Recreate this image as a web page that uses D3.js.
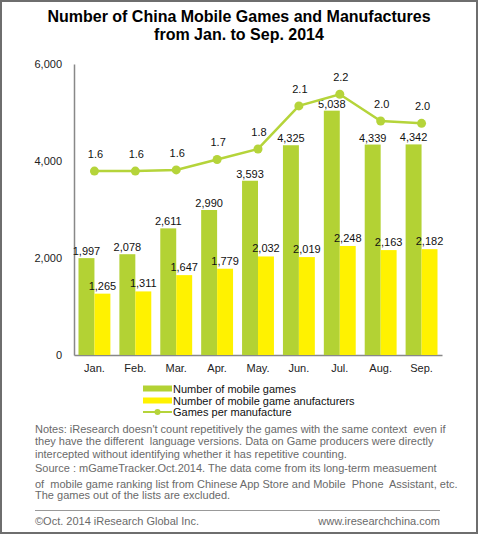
<!DOCTYPE html>
<html>
<head>
<meta charset="utf-8">
<script src="https://cdn.jsdelivr.net/npm/d3@7"></script>
<style>
  html, body { margin: 0; padding: 0; background: #fff; }
  svg { display: block; font-family: Arial, "Liberation Sans", sans-serif; }
</style>
</head>
<body>
<div id="chart"></div>
<script>
const months = ["Jan.", "Feb.", "Mar.", "Apr.", "May.", "Jun.", "Jul.", "Aug.", "Sep."];
const mobileGames = [1997, 2078, 2611, 2990, 3593, 4325, 5038, 4339, 4342];
const manufacturers = [1265, 1311, 1647, 1779, 2032, 2019, 2248, 2163, 2182];
const gamesPerManufacture = [1.58, 1.58, 1.59, 1.68, 1.77, 2.14, 2.24, 2.01, 1.99];
const yTicks = [0, 2000, 4000, 6000];
const seriesNames = ["Number of mobile games", "Number of mobile game anufacturers", "Games per manufacture"];
const titleLines = ["Number of China Mobile Games and Manufactures", "from Jan. to Sep. 2014"];
const noteLines = [
  "Notes: iResearch doesn't count repetitively the games with the same context  even if",
  "they have the different  language versions. Data on Game producers were directly",
  "intercepted without identifying whether it has repetitive counting.",
  "Source : mGameTracker.Oct.2014. The data come from its long-term measuement",
  "of  mobile game ranking list from Chinese App Store and Mobile  Phone  Assistant, etc.",
  "The games out of the lists are excluded."
];
const footerLeft = "\u00A9Oct. 2014 iResearch Global Inc.";
const footerRight = "www.iresearchchina.com";

const W = 478, H = 534;
const GREEN = "#b3d234", YELLOW = "#fff200", LINE = "#b5d43a";

const svg = d3.select("#chart").append("svg").attr("width", W).attr("height", H);

// frame
svg.append("rect").attr("x", 1).attr("y", 1).attr("width", W - 2).attr("height", H - 2)
  .attr("fill", "none").attr("stroke", "#6e6e6e").attr("stroke-width", 2);

// title
svg.append("g").selectAll("text").data(titleLines).join("text")
  .attr("x", 239).attr("y", (d, i) => 22 + i * 17.5)
  .attr("text-anchor", "middle").attr("font-size", 16).attr("font-weight", "bold")
  .attr("fill", "#000").text(d => d);

const x0 = d3.scaleBand().domain(months).range([74, 442]).paddingInner(0.22).paddingOuter(0.11);
const x1 = d3.scaleBand().domain(["games", "manu"]).range([0, x0.bandwidth()]);
const y = d3.scaleLinear().domain([0, 6000]).range([355, 64]);
const y2 = d3.scaleLinear().domain([0, 2.5]).range([355, 64]);

// axes
const yAxis = svg.append("g").attr("transform", "translate(74,0)")
  .call(d3.axisLeft(y).tickValues(yTicks).tickSize(0).tickPadding(12).tickFormat(d3.format(",")));
yAxis.select(".domain").attr("stroke", "#888").attr("stroke-width", 1.5);
yAxis.selectAll("text").attr("font-size", 11).attr("fill", "#222").attr("font-family", "Arial, 'Liberation Sans', sans-serif");

const xAxis = svg.append("g").attr("transform", "translate(0,355)")
  .call(d3.axisBottom(x0).tickSize(0).tickPadding(9));
xAxis.select(".domain").attr("stroke", "#888").attr("stroke-width", 1.5);
xAxis.selectAll("text").attr("font-size", 11).attr("fill", "#222").attr("font-family", "Arial, 'Liberation Sans', sans-serif");

const fmt = d3.format(",");
// bars
const gBars = svg.append("g");
months.forEach((m, i) => {
  const gx = x0(m);
  gBars.append("rect").attr("x", gx + x1("games")).attr("y", y(mobileGames[i]))
    .attr("width", x1.bandwidth()).attr("height", y(0) - y(mobileGames[i])).attr("fill", GREEN);
  gBars.append("rect").attr("x", gx + x1("manu")).attr("y", y(manufacturers[i]))
    .attr("width", x1.bandwidth()).attr("height", y(0) - y(manufacturers[i])).attr("fill", YELLOW);
});
months.forEach((m, i) => {
  const gx = x0(m);
  gBars.append("text").attr("x", gx + x1("games") + x1.bandwidth() / 2)
    .attr("y", y(mobileGames[i]) - 3).attr("text-anchor", "middle")
    .attr("font-size", 11).attr("fill", "#111").text(fmt(mobileGames[i]));
  gBars.append("text").attr("x", gx + x1("manu") + x1.bandwidth() / 2)
    .attr("y", y(manufacturers[i]) - 4).attr("text-anchor", "middle")
    .attr("font-size", 11).attr("fill", "#111").text(fmt(manufacturers[i]));
});

// line
const cx = m => x0(m) + x0.bandwidth() / 2;
const line = d3.line().x((d, i) => cx(months[i])).y(d => y2(d));
svg.append("path").datum(gamesPerManufacture).attr("d", line)
  .attr("fill", "none").attr("stroke", LINE).attr("stroke-width", 2.5);
svg.append("g").selectAll("circle").data(gamesPerManufacture).join("circle")
  .attr("cx", (d, i) => cx(months[i])).attr("cy", d => y2(d)).attr("r", 4.5).attr("fill", LINE);
svg.append("g").selectAll("text").data(gamesPerManufacture).join("text")
  .attr("x", (d, i) => cx(months[i]) + 1).attr("y", d => y2(d) - 13)
  .attr("text-anchor", "middle").attr("font-size", 11).attr("fill", "#111")
  .text(d => d3.format(".1f")(d));

// legend
const leg = svg.append("g");
const rows = [388.5, 400.5, 412];
leg.append("rect").attr("x", 143).attr("y", rows[0] - 3).attr("width", 29).attr("height", 6).attr("fill", GREEN);
leg.append("rect").attr("x", 143).attr("y", rows[1] - 3).attr("width", 29).attr("height", 6).attr("fill", YELLOW);
leg.append("line").attr("x1", 143).attr("x2", 172).attr("y1", rows[2]).attr("y2", rows[2])
  .attr("stroke", LINE).attr("stroke-width", 2);
leg.append("circle").attr("cx", 157.5).attr("cy", rows[2]).attr("r", 3).attr("fill", LINE);
leg.selectAll("text").data(seriesNames).join("text")
  .attr("x", 173).attr("y", (d, i) => rows[i] + 4).attr("font-size", 11).attr("fill", "#111").text(d => d);

// notes
const noteY = [433, 445, 458, 472, 488, 499];
svg.append("g").selectAll("text").data(noteLines).join("text")
  .attr("x", 35).attr("y", (d, i) => noteY[i]).attr("font-size", 11).attr("fill", "#6a6a6a")
  .attr("xml:space", "preserve").style("white-space", "pre").text(d => d);

svg.append("line").attr("x1", 35).attr("x2", 440).attr("y1", 510.5).attr("y2", 510.5)
  .attr("stroke", "#999").attr("stroke-width", 1);
svg.append("text").attr("x", 35).attr("y", 525).attr("font-size", 11).attr("fill", "#6a6a6a").text(footerLeft);
svg.append("text").attr("x", 440).attr("y", 525).attr("text-anchor", "end").attr("font-size", 11).attr("fill", "#6a6a6a").text(footerRight);
</script>
</body>
</html>
